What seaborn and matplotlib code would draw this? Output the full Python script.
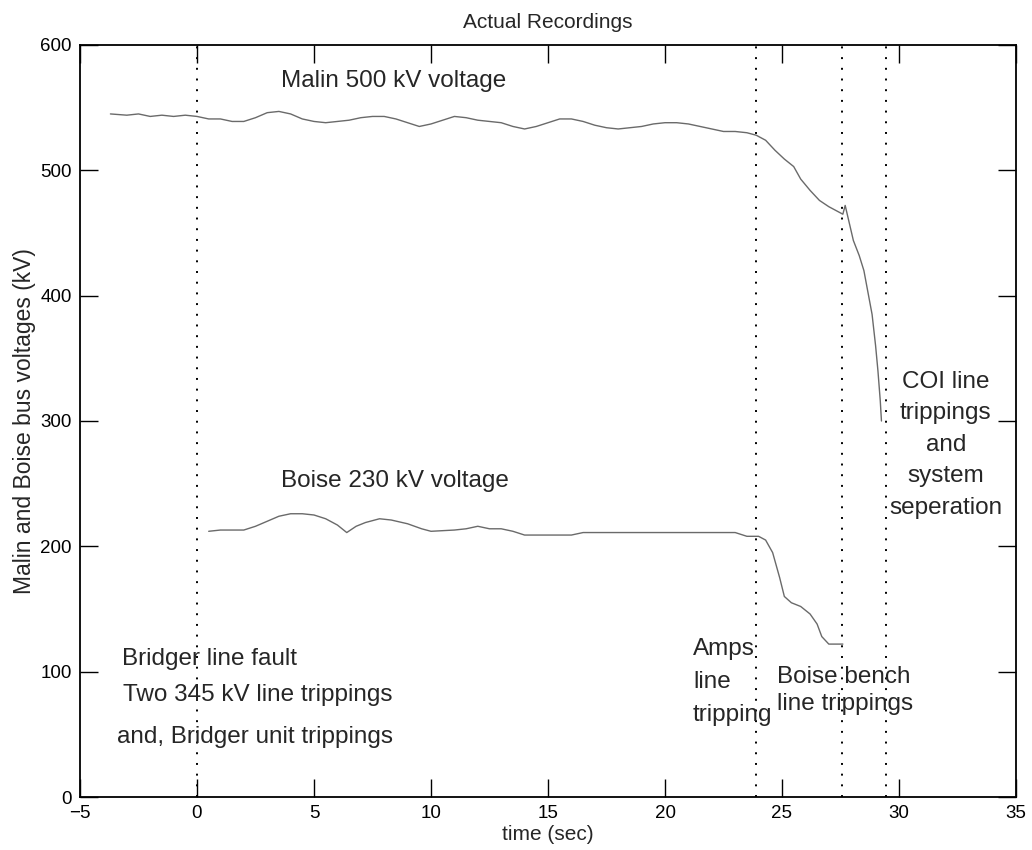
import matplotlib
matplotlib.use("Agg")
import matplotlib.pyplot as plt
import pandas as pd
import seaborn as sns

# Malin 500 kV bus voltage (kV) vs time (s)
malin_t = [-3.7, -3.0, -2.5, -2.0, -1.5, -1.0, -0.5, 0.0, 0.5, 1.0, 1.5, 2.0, 2.5,
           3.0, 3.5, 4.0, 4.5, 5.0, 5.5, 6.0, 6.5, 7.0, 7.5, 8.0, 8.5, 9.0, 9.5,
           10.0, 10.5, 11.0, 11.5, 12.0, 12.5, 13.0, 13.5, 14.0, 14.5, 15.0, 15.5,
           16.0, 16.5, 17.0, 17.5, 18.0, 18.5, 19.0, 19.5, 20.0, 20.5, 21.0, 21.5,
           22.0, 22.5, 23.0, 23.5, 23.9, 24.3, 24.7, 25.1, 25.5, 25.8, 26.2, 26.6,
           27.0, 27.4, 27.6, 27.7, 27.85, 28.05, 28.3, 28.5, 28.7, 28.85, 29.0,
           29.1, 29.2, 29.25]
malin_kv = [545, 544, 545, 543, 544, 543, 544, 543, 541, 541, 539, 539, 542,
            546, 547, 545, 541, 539, 538, 539, 540, 542, 543, 543, 541, 538, 535,
            537, 540, 543, 542, 540, 539, 538, 535, 533, 535, 538, 541,
            541, 539, 536, 534, 533, 534, 535, 537, 538, 538, 537, 535,
            533, 531, 531, 530, 528, 524, 516, 509, 503, 493, 484, 476,
            471, 467, 465, 472, 460, 444, 432, 420, 400, 385, 360,
            340, 316, 300]

# Boise 230 kV bus voltage (kV) vs time (s)
boise_t = [0.5, 1.0, 2.0, 2.5, 3.0, 3.5, 4.0, 4.5, 5.0, 5.5, 6.0, 6.4, 6.8, 7.2,
           7.8, 8.3, 9.0, 9.6, 10.0, 11.0, 11.5, 12.0, 12.5, 13.0, 13.5, 14.0,
           16.0, 16.5, 17.0, 23.0, 23.5, 24.0, 24.3, 24.6, 24.9, 25.1, 25.4,
           25.8, 26.2, 26.5, 26.7, 27.0, 27.6]
boise_kv = [212, 213, 213, 216, 220, 224, 226, 226, 225, 222, 217, 211, 216, 219,
            222, 221, 218, 214, 212, 213, 214, 216, 214, 214, 212, 209,
            209, 211, 211, 211, 208, 208, 205, 195, 175, 160, 155,
            152, 146, 138, 128, 122, 122]

# event times (s)
events = [0.0, 23.9, 27.55, 29.45]

malin = pd.DataFrame({"time": malin_t, "kV": malin_kv})
boise = pd.DataFrame({"time": boise_t, "kV": boise_kv})

sns.set_style("ticks")
plt.rcParams["font.family"] = ["Liberation Sans", "DejaVu Sans"]

fig = plt.figure(figsize=(10.32, 8.5), dpi=100)
ax = fig.add_axes([80 / 1032, 1 - 797 / 850, 936 / 1032, 752 / 850])

sns.lineplot(data=malin, x="time", y="kV", ax=ax, color="#6a6a6a", linewidth=1.0)
sns.lineplot(data=boise, x="time", y="kV", ax=ax, color="#6a6a6a", linewidth=1.0)

for ev in events:
    ax.axvline(ev, color="black", linestyle=(0, (1, 4.5)), linewidth=1.4)

ax.set_xlim(-5, 35)
ax.set_ylim(0, 600)
ax.set_xticks(range(-5, 36, 5))
ax.set_yticks(range(0, 601, 100))
ax.set_xticklabels(["\u22125"] + [str(v) for v in range(0, 36, 5)])
ax.tick_params(direction="in", length=13, width=1.0, top=True, right=True,
               labelsize=13.5, colors="black", pad=6)
for s in ax.spines.values():
    s.set_linewidth(1.3)
    s.set_color("black")

ax.set_title("Actual Recordings", fontsize=15, pad=12)
ax.set_xlabel("time (sec)", fontsize=15, labelpad=2)
ax.set_ylabel("Malin and Boise bus voltages (kV)", fontsize=16.5, labelpad=3)

fs = 17.5
ax.text(3.6, 571, "Malin 500 kV voltage", fontsize=fs, va="center")
ax.text(3.6, 252, "Boise 230 kV voltage", fontsize=fs, va="center")
ax.text(-3.2, 110, "Bridger line fault", fontsize=fs, va="center")
ax.text(-3.15, 81, "Two 345 kV line trippings", fontsize=fs, va="center")
ax.text(-3.4, 48, "and, Bridger unit trippings", fontsize=fs, va="center")
ax.text(21.2, 92, "Amps\nline\ntripping", fontsize=fs, va="center",
        linespacing=1.65)
ax.text(24.8, 85, "Boise bench\nline trippings", fontsize=fs, va="center",
        linespacing=1.3)
ax.text(32.0, 281, "COI line\ntrippings\nand\nsystem\nseperation", fontsize=fs,
        va="center", ha="center", linespacing=1.55)

fig.savefig("out.png", dpi=100)
